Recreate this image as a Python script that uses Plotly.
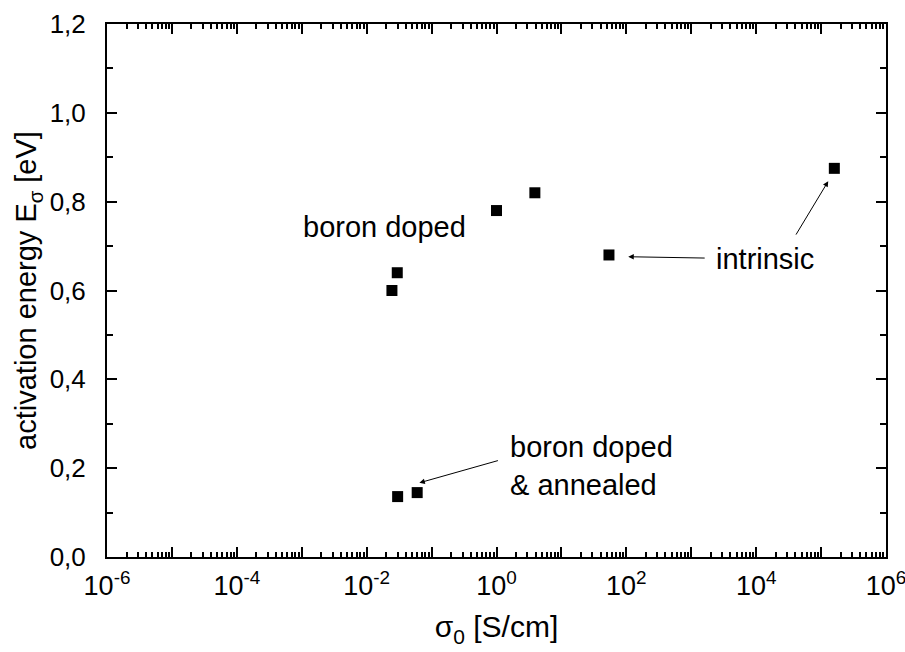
import numpy as np
import plotly.graph_objects as go

# sigma_0 [S/cm] and activation energy E_sigma [eV] per sample group
boron_sigma0 = [0.0245, 0.0296, 1.0, 3.9]
boron_energy = [0.60, 0.64, 0.78, 0.82]

intrinsic_sigma0 = [54.0, 1.6e5]
intrinsic_energy = [0.68, 0.875]

annealed_sigma0 = [0.030, 0.060]
annealed_energy = [0.136, 0.145]

x_exponents = list(range(-6, 7))
y_ticks = [0.0, 0.2, 0.4, 0.6, 0.8, 1.0, 1.2]
y_ticktext = ["0,0", "0,2", "0,4", "0,6", "0,8", "1,0", "1,2"]

FONT = "Arial, Liberation Sans, sans-serif"

fig = go.Figure()
marker = dict(symbol="square", size=11, color="black", line=dict(width=0))
for xs, ys in [(boron_sigma0, boron_energy),
               (intrinsic_sigma0, intrinsic_energy),
               (annealed_sigma0, annealed_energy)]:
    fig.add_trace(go.Scatter(x=xs, y=ys, mode="markers", marker=marker,
                             showlegend=False, cliponaxis=False))

x_tickvals = [10.0 ** e for e in x_exponents]
x_ticktext = [f"10<sup>{e}</sup>" if e % 2 == 0 else "" for e in x_exponents]
x_minor = [m * 10.0 ** e for e in range(-6, 6) for m in range(2, 10)]

fig.update_xaxes(
    type="log", range=[-6, 6], automargin=False,
    tickmode="array", tickvals=x_tickvals, ticktext=x_ticktext,
    ticks="inside", ticklen=10, tickwidth=2, tickcolor="black",
    minor=dict(tickmode="array", tickvals=x_minor, ticks="inside",
               ticklen=5, tickwidth=1.5, tickcolor="black", showgrid=False),
    showline=True, linecolor="black", linewidth=2, mirror="ticks",
    showgrid=False, zeroline=False,
    tickfont=dict(family=FONT, size=27, color="black"),
    ticklabelstandoff=4, ticklabeloverflow="allow",
    title=dict(text="σ<sub>0</sub> [S/cm]", standoff=16,
               font=dict(family=FONT, size=30, color="black")),
)
fig.update_yaxes(
    range=[0, 1.2], automargin=False,
    tickmode="array", tickvals=y_ticks, ticktext=y_ticktext,
    ticks="inside", ticklen=10, tickwidth=2, tickcolor="black",
    minor=dict(dtick=0.1, ticks="inside", ticklen=6, tickwidth=2,
               tickcolor="black", showgrid=False),
    showline=True, linecolor="black", linewidth=2, mirror="ticks",
    showgrid=False, zeroline=False,
    tickfont=dict(family=FONT, size=26, color="black"),
    ticklabelstandoff=14, ticklabeloverflow="allow",
    title=dict(text="activation energy E<sub>σ</sub> [eV]", standoff=4,
               font=dict(family=FONT, size=29, color="black")),
)

text_font = dict(family=FONT, size=29, color="black")
annotations = [
    dict(x=-1.73, y=0.742, text="boron doped", showarrow=False,
         font=text_font, xanchor="center", yanchor="middle"),
    dict(x=4.14, y=0.67, text="intrinsic", showarrow=False,
         font=text_font, xanchor="center", yanchor="middle"),
    dict(x=0.18, y=0.206, text="boron doped<br>& annealed", showarrow=False,
         font=text_font, xanchor="left", yanchor="middle", align="left"),
]
# arrows: (head_x_log, head_y, tail_x_log, tail_y)
arrows = [
    (2.03, 0.676, 3.23, 0.673),
    (5.11, 0.846, 4.60, 0.7225),
    (-1.188, 0.167, 0.045, 0.218),
]
for hx, hy, tx, ty in arrows:
    annotations.append(dict(
        x=hx, y=hy, ax=tx, ay=ty, xref="x", yref="y", axref="x", ayref="y",
        text="", showarrow=True, arrowhead=2, arrowsize=1.1, arrowwidth=1,
        arrowcolor="black", standoff=0, startstandoff=0))

fig.update_layout(
    width=905, height=652,
    margin=dict(l=107, r=19, t=24, b=95),
    paper_bgcolor="white", plot_bgcolor="white",
    annotations=annotations,
    font=dict(family=FONT, color="black"),
)

fig.write_html("out.html")
